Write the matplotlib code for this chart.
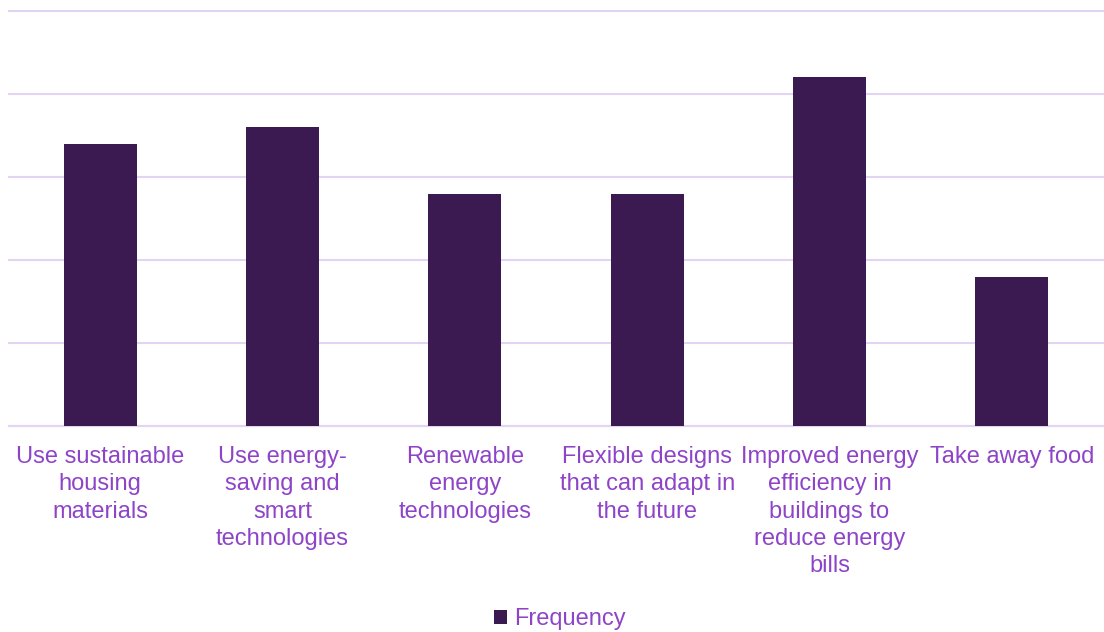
import matplotlib.pyplot as plt

categories = [
    "Use sustainable\nhousing\nmaterials",
    "Use energy-\nsaving and\nsmart\ntechnologies",
    "Renewable\nenergy\ntechnologies",
    "Flexible designs\nthat can adapt in\nthe future",
    "Improved energy\nefficiency in\nbuildings to\nreduce energy\nbills",
    "Take away food",
]
frequency = [17, 18, 14, 14, 21, 9]

bar_color = "#3B1A52"
text_color = "#8E44C8"
grid_color = "#E4D4F4"

plt.rcParams["font.family"] = ["Liberation Sans", "DejaVu Sans"]

fig = plt.figure(figsize=(11.04, 6.32), dpi=100)
ax = fig.add_axes([9 / 1104, 1 - 426 / 632, 1094 / 1104, (426 - 11) / 632])

x = list(range(len(categories)))
bars = ax.bar(x, frequency, width=0.4, color=bar_color, zorder=3, label="Frequency")

ax.set_xlim(-0.5, len(categories) - 0.5)
ax.set_ylim(0, 25)
ax.set_yticks([0, 5, 10, 15, 20, 25])
ax.yaxis.grid(True, color=grid_color, linewidth=1.5, zorder=0, clip_on=False)
ax.tick_params(axis="y", left=False, labelleft=False)
ax.tick_params(axis="x", bottom=False, pad=11)

ax.set_xticks(x)
ax.set_xticklabels(categories, fontsize=17, color=text_color, linespacing=1.31, va="top")

for side in ["top", "right", "left"]:
    ax.spines[side].set_visible(False)
ax.spines["bottom"].set_color(grid_color)
ax.spines["bottom"].set_linewidth(1.5)

fig.legend(handles=[bars], labels=["Frequency"], loc="center", bbox_to_anchor=(560 / 1104, 1 - 619 / 632),
           frameon=False, fontsize=17, labelcolor=text_color, handlelength=0.55, handleheight=0.55,
           handletextpad=0.3)

fig.savefig("out.png", dpi=100, facecolor="white")
